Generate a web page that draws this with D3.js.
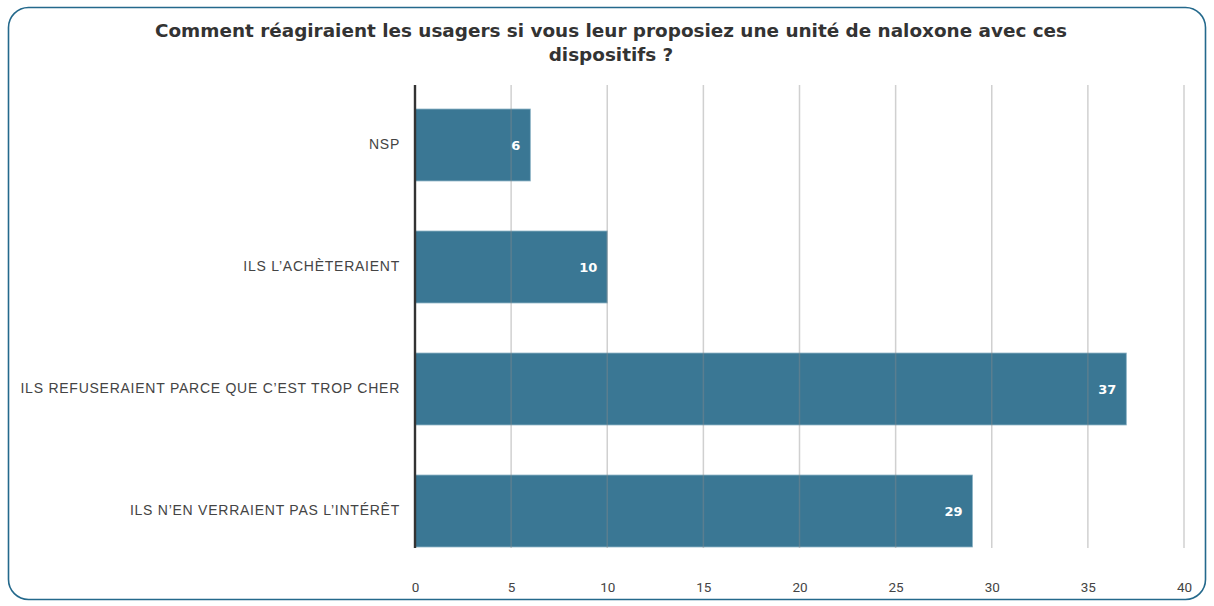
<!DOCTYPE html>
<html>
<head>
<meta charset="utf-8">
<script src="https://cdn.jsdelivr.net/npm/d3@7"></script>
<style>
  html, body { margin: 0; padding: 0; background: #fff; }
  svg { display: block; }
</style>
</head>
<body>
<svg id="chart" width="1214" height="606"></svg>
<script>
// Responses and counts
const categories = [
  "NSP",
  "ILS L\u2019ACHÈTERAIENT",
  "ILS REFUSERAIENT PARCE QUE C\u2019EST TROP CHER",
  "ILS N\u2019EN VERRAIENT PAS L\u2019INTÉRÊT"
];
const counts = [6, 10, 37, 29];
const tickValues = [0, 5, 10, 15, 20, 25, 30, 35, 40];
const titleLines = [
  "Comment réagiraient les usagers si vous leur proposiez une unité de naloxone avec ces",
  "dispositifs ?"
];

const svg = d3.select("#chart");
const W = 1214, H = 606;

// Rounded frame
svg.append("rect")
  .attr("x", 8.5).attr("y", 7.5)
  .attr("width", W - 17).attr("height", H - 14)
  .attr("rx", 20).attr("ry", 20)
  .attr("fill", "#fff")
  .attr("stroke", "#24698c")
  .attr("stroke-width", 1.6);

// Title
svg.append("g").selectAll("text")
  .data(titleLines)
  .join("text")
  .attr("x", 611)
  .attr("y", (d, i) => 37 + i * 24)
  .attr("text-anchor", "middle")
  .attr("font-family", "'DejaVu Sans', sans-serif")
  .attr("font-weight", 700)
  .attr("font-size", 18.4)
  .attr("fill", "#333")
  .text(d => d);

const x = d3.scaleLinear().domain([0, 40]).range([415, 1184]);
const y = d3.scaleBand().domain(categories).range([84.6, 571.4])
  .paddingInner(0.41).paddingOuter(0.2);

const gridTop = 85, gridBottom = 548;

// Bars
svg.append("g").selectAll("rect")
  .data(categories)
  .join("rect")
  .attr("x", x(0))
  .attr("y", d => y(d))
  .attr("width", (d, i) => x(counts[i]) - x(0))
  .attr("height", y.bandwidth())
  .attr("fill", "#3a7794")
  .attr("stroke", "#8fb4c6")
  .attr("stroke-width", 0.8);

// Vertical gridlines over the bars
svg.append("g").selectAll("line")
  .data(tickValues.filter(v => v > 0))
  .join("line")
  .attr("x1", d => x(d)).attr("x2", d => x(d))
  .attr("y1", gridTop).attr("y2", gridBottom)
  .attr("stroke", "#8a8a8a")
  .attr("stroke-opacity", 0.4)
  .attr("stroke-width", 1.5);

// Zero axis line
svg.append("line")
  .attr("x1", x(0)).attr("x2", x(0))
  .attr("y1", gridTop).attr("y2", gridBottom)
  .attr("stroke", "#333")
  .attr("stroke-width", 2.4);

// X tick labels
const xAxis = d3.axisBottom(x).tickValues(tickValues).tickSize(0).tickPadding(0);
const gx = svg.append("g").attr("transform", "translate(0,582)").call(xAxis);
gx.select(".domain").remove();
gx.selectAll("text")
  .attr("font-family", "Roboto, 'Liberation Sans', sans-serif")
  .attr("font-size", 13.5)
  .attr("fill", "#444");

// Category labels
const yAxis = d3.axisLeft(y).tickSize(0).tickPadding(0);
const gy = svg.append("g").attr("transform", "translate(400,0)").call(yAxis);
gy.select(".domain").remove();
gy.selectAll("text")
  .attr("font-family", "'Liberation Sans', Arial, sans-serif")
  .attr("font-size", 14)
  .attr("letter-spacing", 0.75)
  .attr("fill", "#444");

// Value labels inside bar ends
svg.append("g").selectAll("text")
  .data(categories)
  .join("text")
  .attr("x", (d, i) => x(counts[i]) - 10)
  .attr("y", d => y(d) + y.bandwidth() / 2)
  .attr("dy", "0.35em")
  .attr("text-anchor", "end")
  .attr("font-family", "'DejaVu Sans', sans-serif")
  .attr("font-weight", 700)
  .attr("font-size", 13)
  .attr("fill", "#fff")
  .text((d, i) => counts[i]);
</script>
</body>
</html>
